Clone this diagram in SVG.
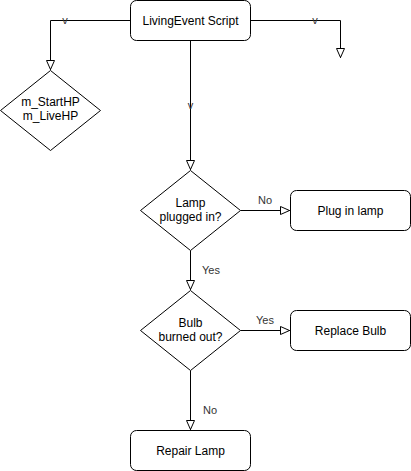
<svg xmlns="http://www.w3.org/2000/svg" width="411" height="471" viewBox="0 0 411 471">
<style>
.node{fill:#fff;stroke:#000;stroke-width:1}
.t{font-family:"Liberation Sans",Arial,sans-serif;font-size:12px;fill:#000;text-anchor:middle}
.lbl{font-family:"Liberation Sans",Arial,sans-serif;font-size:11px;fill:#333;text-anchor:middle}
.edge{fill:none;stroke:#000;stroke-width:1}
</style>
<defs>
<marker id="arr" viewBox="0 0 10 10" refX="10" refY="5" markerWidth="10" markerHeight="10" markerUnits="userSpaceOnUse" orient="auto">
<path d="M0.5,1 L9.5,5 L0.5,9 Z" fill="#fff" stroke="#000" stroke-width="1"/>
</marker>
</defs>
<rect width="411" height="471" fill="#fff"/>
<g id="connectors">
<path class="edge" d="M130.5,20.5 H50.5 V70" marker-end="url(#arr)"/>
<text class="lbl" x="65" y="24">v</text>
<path class="edge" d="M250.5,20.5 H340.5 V58" marker-end="url(#arr)"/>
<text class="lbl" x="315" y="24">v</text>
<path class="edge" d="M190.5,40.5 V170" marker-end="url(#arr)"/>
<text class="lbl" x="190.5" y="109">v</text>
<path class="edge" d="M240.5,210.5 H290" marker-end="url(#arr)"/>
<text class="lbl" x="265" y="204">No</text>
<path class="edge" d="M190.5,250.5 V290" marker-end="url(#arr)"/>
<text class="lbl" x="211" y="274">Yes</text>
<path class="edge" d="M240.5,330.5 H290" marker-end="url(#arr)"/>
<text class="lbl" x="265" y="324">Yes</text>
<path class="edge" d="M190.5,370.5 V430" marker-end="url(#arr)"/>
<text class="lbl" x="210" y="414">No</text>
</g>
<g id="living-event-script">
<rect class="node" x="130.5" y="0.5" width="120" height="40" rx="6"/>
<text class="t" x="190.5" y="25">LivingEvent Script</text>
</g>
<g id="hp-vars">
<path class="node" d="M50.5,70.5 L100.5,110.5 L50.5,150.5 L0.5,110.5 Z"/>
<text class="t" x="50.5" y="106">m_StartHP</text>
<text class="t" x="50.5" y="120">m_LiveHP</text>
</g>
<g id="lamp-plugged">
<path class="node" d="M190.5,170.5 L240.5,210.5 L190.5,250.5 L140.5,210.5 Z"/>
<text class="t" x="190.5" y="207">Lamp</text>
<text class="t" x="190.5" y="221">plugged in?</text>
</g>
<g id="plug-in-lamp">
<rect class="node" x="290.5" y="190.5" width="120" height="40" rx="6"/>
<text class="t" x="350.5" y="215">Plug in lamp</text>
</g>
<g id="bulb-burned">
<path class="node" d="M190.5,290.5 L240.5,330.5 L190.5,370.5 L140.5,330.5 Z"/>
<text class="t" x="190.5" y="327">Bulb</text>
<text class="t" x="190.5" y="341">burned out?</text>
</g>
<g id="replace-bulb">
<rect class="node" x="290.5" y="310.5" width="120" height="40" rx="6"/>
<text class="t" x="350.5" y="335">Replace Bulb</text>
</g>
<g id="repair-lamp">
<rect class="node" x="130.5" y="430.5" width="120" height="40" rx="6"/>
<text class="t" x="190.5" y="455">Repair Lamp</text>
</g>
</svg>
